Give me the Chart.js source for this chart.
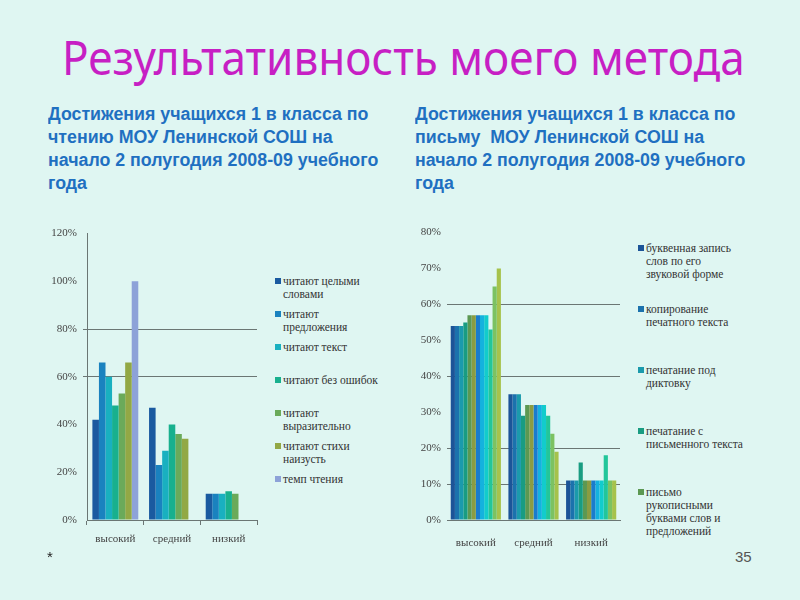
<!DOCTYPE html>
<html>
<head>
<meta charset="utf-8">
<script src="https://cdn.jsdelivr.net/npm/chart.js@4.4.0/dist/chart.umd.min.js"></script>
<style>
  html, body { margin: 0; padding: 0; }
  body { width: 800px; height: 600px; background: #dff6f2; position: relative; overflow: hidden; font-family: 'Liberation Sans', Arial, sans-serif; }
  #title { position: absolute; left: 62px; top: 25px; font-family: 'Noto Sans', sans-serif; font-size: 48px; color: #c71fc4; white-space: nowrap; transform-origin: left top; line-height: 64px; }
  .sub { position: absolute; top: 103px; font-family: 'Liberation Sans', Arial, sans-serif; font-weight: bold; font-size: 18px; line-height: 23px; color: #1f70c1; white-space: nowrap; transform-origin: left top; }
  canvas { position: absolute; }
  .legend { position: absolute; font-family: 'Liberation Serif', serif; font-size: 11.5px; line-height: 13px; color: #333; }
  .legend .item { position: relative; padding-left: 8px; }
  .legend .sw { position: absolute; left: 0; top: 3px; width: 6px; height: 6px; }
  #star { position: absolute; left: 47px; top: 548px; font-size: 15px; color: #222; }
  #page { position: absolute; left: 735px; top: 548px; font-size: 15px; color: #555; }
</style>
</head>
<body>
<div id="title">Результативность моего метода</div>
<div class="sub" style="left:48px">Достижения учащихся 1 в класса по<br>чтению МОУ Ленинской СОШ на<br>начало 2 полугодия 2008-09 учебного<br>года</div>
<div class="sub" style="left:415px">Достижения учащихся 1 в класса по<br>письму&nbsp; МОУ Ленинской СОШ на<br>начало 2 полугодия 2008-09 учебного<br>года</div>

<canvas id="readChart" width="230" height="329" style="left:30px; top:221px"></canvas>
<canvas id="writeChart" width="222" height="330" style="left:400px; top:220px"></canvas>
<div id="readLegend" class="legend" style="left:275px; top:275px; width:125px"></div>
<div id="writeLegend" class="legend" style="left:638px; top:242px; width:130px"></div>

<div id="star">*</div>
<div id="page">35</div>

<script>
// levels (categories) — same for both charts
var levels = ['высокий', 'средний', 'низкий'];

// reading chart
var readSeries = [
  ['читают целыми', 'словами'],
  ['читают', 'предложения'],
  ['читают текст'],
  ['читают без ошибок'],
  ['читают', 'выразительно'],
  ['читают стихи', 'наизусть'],
  ['темп чтения']
];
var readValues = [
  [42, 47, 11],
  [66, 23, 11],
  [60, 29, 11],
  [48, 40, 12],
  [53, 36, 11],
  [66, 34, null],
  [100, null, null]
];
var readColors = ['#1a5aa0', '#1a82bf', '#19b0c0', '#18b08e', '#6aaa5a', '#92a845', '#8da2d8'];

// writing chart (12 series, only 5 named in the legend)
var writeSeries = [
  ['буквенная запись', 'слов по его', 'звуковой форме'],
  ['копирование', 'печатного текста'],
  ['печатание под', 'диктовку'],
  ['печатание с', 'письменного текста'],
  ['письмо', 'рукописными', 'буквами слов и', 'предложений']
];
var writeValues = [
  [54, 35, 11],
  [54, 35, 11],
  [54, 35, 11],
  [55, 29, 16],
  [57, 32, 11],
  [57, 32, 11],
  [57, 32, 11],
  [57, 32, 11],
  [57, 32, 11],
  [53, 29, 18],
  [65, 24, 11],
  [70, 19, 11]
];
var writeColors = ['#1c5498', '#1b72ad', '#1b9aac', '#199c82', '#5c9852', '#8a9c42',
                   '#1a7ccc', '#14b2de', '#12cccc', '#22c69a', '#7cc262', '#a6c24c'];

var lineColor = '#6b7674';
var tickFont = { family: 'Liberation Serif', size: 11 };

// squeeze title and subtitles to the slide widths
var title = document.getElementById('title');
title.style.transform = 'scaleX(' + (683 / title.offsetWidth) + ')';
document.querySelectorAll('.sub').forEach(function (el) {
  el.style.transform = 'scaleX(' + (330 / el.offsetWidth) + ')';
});

function makeDatasets(values, names, colors, catPct) {
  return values.map(function (v, i) {
    return {
      label: names[i] ? names[i].join(' ') : '',
      data: v,
      backgroundColor: colors[i],
      borderWidth: 0,
      barPercentage: 1,
      categoryPercentage: catPct
    };
  });
}

function buildLegend(id, chart, names, slot) {
  var box = document.getElementById(id);
  names.forEach(function (lines, i) {
    var item = document.createElement('div');
    item.className = 'item';
    item.style.height = slot + 'px';
    var sw = document.createElement('span');
    sw.className = 'sw';
    sw.style.background = chart.data.datasets[i].backgroundColor;
    item.appendChild(sw);
    lines.forEach(function (t, k) {
      if (k) item.appendChild(document.createElement('br'));
      item.appendChild(document.createTextNode(t));
    });
    box.appendChild(item);
  });
}

var readChart = new Chart(document.getElementById('readChart'), {
  type: 'bar',
  data: { labels: levels, datasets: makeDatasets(readValues, readSeries, readColors, 0.81) },
  options: {
    responsive: false,
    animation: false,
    layout: { padding: { top: 0, right: 3 } },
    plugins: { legend: { display: false }, tooltip: { enabled: false } },
    scales: {
      x: {
        afterFit: function (s) { s.height = 30; },
        grid: { drawOnChartArea: false, tickLength: 5, color: lineColor },
        border: { color: lineColor },
        ticks: { font: tickFont, color: '#444', padding: 8 }
      },
      y: {
        min: 0, max: 120,
        afterFit: function (s) { s.width = 57; },
        grid: {
          tickLength: 4,
          color: function (ctx) {
            return (ctx.tick && (ctx.tick.value === 60 || ctx.tick.value === 80)) ? lineColor : 'rgba(0,0,0,0)';
          }
        },
        border: { color: lineColor },
        ticks: { stepSize: 20, font: tickFont, color: '#444', padding: 6,
                 callback: function (v) { return v + '%'; } }
      }
    }
  }
});

var writeChart = new Chart(document.getElementById('writeChart'), {
  type: 'bar',
  data: { labels: levels, datasets: makeDatasets(writeValues, writeSeries, writeColors, 0.87) },
  options: {
    responsive: false,
    animation: false,
    layout: { padding: { top: 0, right: 2 } },
    plugins: { legend: { display: false }, tooltip: { enabled: false } },
    scales: {
      x: {
        afterFit: function (s) { s.height = 30; },
        grid: { display: false },
        border: { color: lineColor },
        ticks: { font: tickFont, color: '#444', padding: 9 }
      },
      y: {
        min: 0, max: 80,
        afterFit: function (s) { s.width = 47; },
        grid: {
          drawTicks: false,
          color: function (ctx) {
            var v = ctx.tick && ctx.tick.value;
            return (v === 10 || v === 20 || v === 40 || v === 60) ? lineColor : 'rgba(0,0,0,0)';
          }
        },
        border: { display: false },
        ticks: { stepSize: 10, font: tickFont, color: '#444', padding: 6,
                 callback: function (v) { return v + '%'; } }
      }
    }
  }
});

buildLegend('readLegend', readChart, readSeries, 33);
buildLegend('writeLegend', writeChart, writeSeries, 61);
</script>
</body>
</html>
